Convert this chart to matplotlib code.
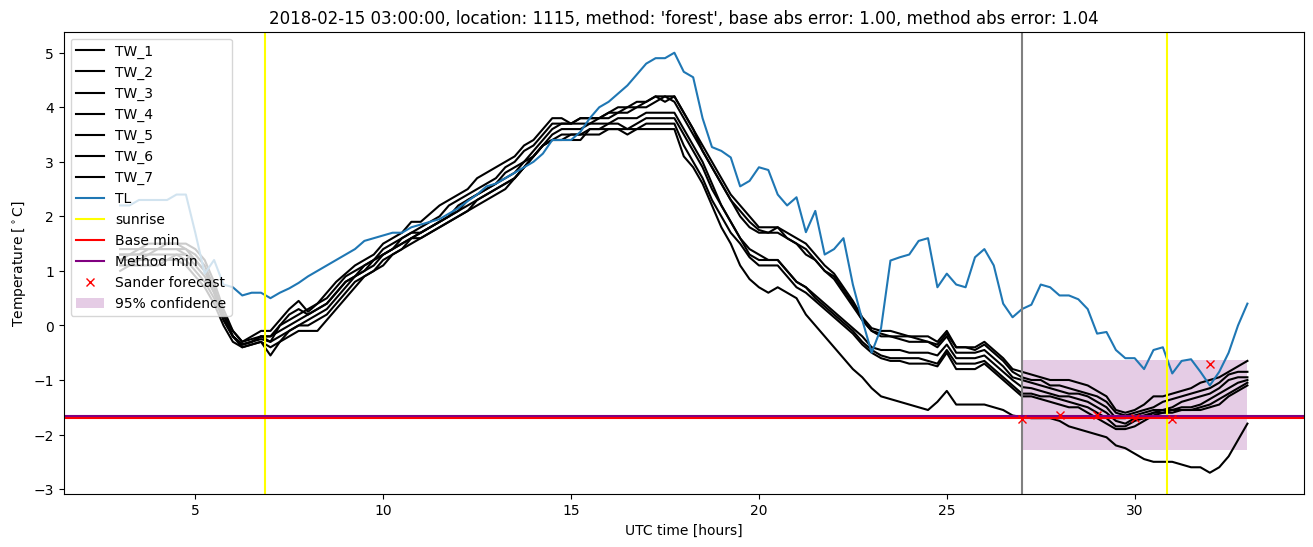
import matplotlib
matplotlib.use('Agg')
import numpy as np
import matplotlib.pyplot as plt

# quarter-hourly samples, 03:00 .. 33:00 UTC hours
hours = np.arange(3.0, 33.01, 0.25)

tw_1 = [1.4, 1.4, 1.4, 1.5, 1.5, 1.5, 1.5, 1.5, 1.4, 1.2, 0.8, 0.3,
        -0.1, -0.3, -0.2, -0.1, -0.1, 0.1, 0.3, 0.45, 0.25, 0.4, 0.6, 0.8,
        0.95, 1.1, 1.2, 1.3, 1.5, 1.6, 1.7, 1.9, 1.9, 2.05, 2.2, 2.3,
        2.4, 2.5, 2.7, 2.8, 2.9, 3.0, 3.1, 3.3, 3.4, 3.6, 3.8, 3.8,
        3.7, 3.8, 3.8, 3.8, 3.9, 4.0, 4.0, 4.1, 4.1, 4.2, 4.2, 4.2,
        3.9, 3.6, 3.3, 3.0, 2.7, 2.4, 2.2, 2.0, 1.8, 1.8, 1.8, 1.7,
        1.6, 1.5, 1.3, 1.1, 0.95, 0.7, 0.45, 0.15, -0.05, -0.1, -0.1, -0.15,
        -0.2, -0.2, -0.2, -0.3, -0.1, -0.4, -0.4, -0.4, -0.3, -0.45, -0.6, -0.8,
        -0.85, -0.9, -0.95, -1.0, -1.0, -1.0, -1.05, -1.1, -1.2, -1.3, -1.55, -1.6,
        -1.55, -1.45, -1.3, -1.3, -1.25, -1.2, -1.15, -1.05, -1.0, -0.95, -0.85, -0.75,
        -0.65]
tw_2 = [1.3, 1.3, 1.4, 1.4, 1.4, 1.5, 1.5, 1.4, 1.3, 1.1, 0.7, 0.2,
        -0.1, -0.3, -0.25, -0.2, -0.2, 0.0, 0.1, 0.2, 0.3, 0.4, 0.5, 0.7,
        0.9, 1.0, 1.1, 1.2, 1.4, 1.5, 1.6, 1.7, 1.8, 1.9, 2.0, 2.2,
        2.3, 2.4, 2.5, 2.6, 2.7, 2.9, 3.0, 3.2, 3.3, 3.5, 3.7, 3.7,
        3.7, 3.8, 3.8, 3.8, 3.9, 3.9, 4.0, 4.0, 4.1, 4.2, 4.1, 4.2,
        3.9, 3.6, 3.2, 2.9, 2.6, 2.3, 2.1, 1.9, 1.75, 1.7, 1.8, 1.6,
        1.5, 1.4, 1.2, 1.0, 0.9, 0.65, 0.4, 0.1, -0.1, -0.15, -0.2, -0.2,
        -0.2, -0.25, -0.3, -0.35, -0.15, -0.4, -0.4, -0.45, -0.35, -0.5, -0.65, -0.85,
        -0.95, -1.0, -1.0, -1.1, -1.1, -1.15, -1.2, -1.25, -1.3, -1.4, -1.6, -1.65,
        -1.6, -1.55, -1.5, -1.4, -1.35, -1.3, -1.25, -1.2, -1.15, -1.05, -0.9, -0.85,
        -0.85]
tw_3 = [1.2, 1.3, 1.3, 1.3, 1.4, 1.4, 1.4, 1.4, 1.2, 1.0, 0.6, 0.2,
        -0.2, -0.35, -0.3, -0.2, -0.2, -0.1, 0.0, 0.1, 0.2, 0.3, 0.4, 0.6,
        0.8, 0.9, 1.1, 1.2, 1.3, 1.4, 1.6, 1.7, 1.7, 1.8, 1.9, 2.0,
        2.2, 2.3, 2.4, 2.5, 2.6, 2.8, 2.9, 3.0, 3.2, 3.4, 3.6, 3.7,
        3.7, 3.7, 3.7, 3.8, 3.8, 3.9, 3.9, 4.0, 4.0, 4.1, 4.2, 4.1,
        3.8, 3.5, 3.2, 2.9, 2.6, 2.3, 2.0, 1.8, 1.7, 1.7, 1.7, 1.6,
        1.5, 1.3, 1.2, 1.0, 0.85, 0.6, 0.35, 0.1, -0.1, -0.2, -0.2, -0.25,
        -0.3, -0.3, -0.3, -0.4, -0.2, -0.5, -0.5, -0.5, -0.45, -0.6, -0.75, -0.95,
        -1.0, -1.05, -1.1, -1.15, -1.2, -1.25, -1.25, -1.3, -1.4, -1.5, -1.7, -1.7,
        -1.65, -1.6, -1.55, -1.55, -1.5, -1.4, -1.35, -1.3, -1.25, -1.15, -1.0, -0.95,
        -0.95]
tw_4 = [1.2, 1.2, 1.2, 1.3, 1.3, 1.3, 1.3, 1.3, 1.1, 0.9, 0.6, 0.1,
        -0.2, -0.35, -0.3, -0.25, -0.3, -0.2, -0.1, 0.0, 0.1, 0.2, 0.3, 0.5,
        0.7, 0.9, 1.0, 1.1, 1.3, 1.4, 1.5, 1.6, 1.7, 1.8, 1.9, 2.0,
        2.1, 2.3, 2.4, 2.5, 2.6, 2.7, 2.8, 3.0, 3.1, 3.3, 3.5, 3.6,
        3.6, 3.6, 3.7, 3.7, 3.7, 3.8, 3.8, 3.8, 3.9, 3.9, 3.9, 3.9,
        3.6, 3.3, 3.0, 2.6, 2.2, 1.9, 1.6, 1.4, 1.3, 1.2, 1.2, 1.0,
        0.8, 0.7, 0.55, 0.4, 0.25, 0.1, -0.05, -0.2, -0.4, -0.45, -0.45, -0.45,
        -0.5, -0.5, -0.5, -0.55, -0.35, -0.6, -0.6, -0.6, -0.55, -0.7, -0.85, -1.0,
        -1.13, -1.15, -1.2, -1.25, -1.3, -1.3, -1.35, -1.4, -1.5, -1.6, -1.75, -1.8,
        -1.7, -1.65, -1.6, -1.55, -1.55, -1.5, -1.5, -1.45, -1.35, -1.25, -1.15, -1.05,
        -1.0]
tw_5 = [1.1, 1.1, 1.2, 1.2, 1.2, 1.2, 1.3, 1.2, 1.0, 0.8, 0.5, 0.1,
        -0.2, -0.4, -0.35, -0.3, -0.4, -0.3, -0.1, 0.0, 0.0, 0.1, 0.2, 0.4,
        0.6, 0.8, 0.9, 1.0, 1.2, 1.3, 1.4, 1.6, 1.6, 1.7, 1.8, 1.9,
        2.0, 2.1, 2.3, 2.4, 2.5, 2.6, 2.7, 2.9, 3.1, 3.3, 3.4, 3.5,
        3.5, 3.5, 3.6, 3.6, 3.7, 3.7, 3.6, 3.7, 3.8, 3.8, 3.8, 3.8,
        3.5, 3.2, 2.9, 2.5, 2.2, 1.9, 1.6, 1.3, 1.2, 1.2, 1.2, 1.0,
        0.8, 0.7, 0.5, 0.35, 0.2, 0.05, -0.1, -0.3, -0.45, -0.55, -0.6, -0.6,
        -0.6, -0.6, -0.65, -0.7, -0.45, -0.7, -0.7, -0.7, -0.65, -0.8, -0.95, -1.1,
        -1.25, -1.25, -1.3, -1.3, -1.35, -1.4, -1.45, -1.5, -1.6, -1.7, -1.85, -1.85,
        -1.75, -1.7, -1.6, -1.6, -1.55, -1.55, -1.55, -1.5, -1.45, -1.35, -1.25, -1.15,
        -1.05]
tw_6 = [1.0, 1.1, 1.1, 1.1, 1.1, 1.2, 1.2, 1.1, 0.9, 0.7, 0.4, 0.0,
        -0.3, -0.4, -0.35, -0.3, -0.55, -0.3, -0.2, -0.1, -0.1, -0.1, 0.1, 0.3,
        0.5, 0.7, 0.9, 1.0, 1.1, 1.3, 1.4, 1.5, 1.6, 1.7, 1.8, 1.9,
        2.0, 2.1, 2.2, 2.3, 2.4, 2.5, 2.7, 2.9, 3.1, 3.3, 3.4, 3.4,
        3.5, 3.5, 3.5, 3.5, 3.6, 3.6, 3.5, 3.6, 3.7, 3.7, 3.7, 3.7,
        3.3, 3.0, 2.7, 2.3, 2.0, 1.7, 1.5, 1.25, 1.1, 1.1, 1.1, 0.9,
        0.7, 0.6, 0.45, 0.3, 0.15, 0.0, -0.15, -0.35, -0.5, -0.6, -0.65, -0.65,
        -0.7, -0.7, -0.7, -0.75, -0.5, -0.8, -0.8, -0.8, -0.7, -0.85, -1.0, -1.15,
        -1.3, -1.3, -1.35, -1.4, -1.45, -1.5, -1.5, -1.6, -1.7, -1.8, -1.9, -1.9,
        -1.85, -1.75, -1.65, -1.6, -1.6, -1.55, -1.55, -1.55, -1.5, -1.45, -1.3, -1.2,
        -1.1]
tw_7 = [1.3, 1.3, 1.3, 1.4, 1.4, 1.4, 1.4, 1.3, 1.2, 1.0, 0.7, 0.2,
        -0.2, -0.35, -0.3, -0.2, -0.3, 0.0, 0.2, 0.3, 0.2, 0.3, 0.4, 0.6,
        0.8, 0.9, 1.0, 1.2, 1.3, 1.4, 1.5, 1.6, 1.7, 1.8, 1.9, 2.0,
        2.1, 2.2, 2.3, 2.4, 2.5, 2.6, 2.7, 2.9, 3.1, 3.3, 3.4, 3.4,
        3.4, 3.4, 3.6, 3.6, 3.6, 3.6, 3.6, 3.6, 3.6, 3.6, 3.6, 3.6,
        3.1, 2.9, 2.6, 2.2, 1.8, 1.5, 1.1, 0.85, 0.7, 0.6, 0.7, 0.6,
        0.5, 0.2, 0.0, -0.2, -0.4, -0.6, -0.8, -0.95, -1.15, -1.3, -1.35, -1.4,
        -1.45, -1.5, -1.55, -1.4, -1.2, -1.45, -1.45, -1.45, -1.45, -1.5, -1.55, -1.65,
        -1.68, -1.7, -1.7, -1.7, -1.75, -1.85, -1.9, -1.95, -2.0, -2.05, -2.2, -2.25,
        -2.35, -2.45, -2.5, -2.5, -2.5, -2.55, -2.6, -2.6, -2.7, -2.6, -2.4, -2.1,
        -1.8]
tl = [2.2, 2.2, 2.3, 2.3, 2.3, 2.3, 2.4, 2.4, 1.7, 0.95, 1.2, 0.75,
      0.7, 0.55, 0.6, 0.6, 0.5, 0.6, 0.68, 0.78, 0.9, 1.0, 1.1, 1.2,
      1.3, 1.4, 1.55, 1.6, 1.65, 1.7, 1.7, 1.8, 1.85, 1.9, 1.95, 2.05,
      2.15, 2.28, 2.4, 2.55, 2.6, 2.7, 2.8, 2.9, 3.0, 3.15, 3.4, 3.4,
      3.4, 3.55, 3.8, 4.0, 4.1, 4.25, 4.4, 4.6, 4.8, 4.9, 4.9, 5.0,
      4.65, 4.55, 3.8, 3.27, 3.2, 3.08, 2.55, 2.65, 2.9, 2.85, 2.4, 2.2,
      2.35, 1.71, 2.1, 1.3, 1.4, 1.6, 0.75, 0.1, -0.5, -0.05, 1.19, 1.25,
      1.3, 1.55, 1.6, 0.7, 0.95, 0.75, 0.7, 1.25, 1.4, 1.1, 0.4, 0.15,
      0.3, 0.38, 0.75, 0.7, 0.55, 0.55, 0.48, 0.3, -0.15, -0.12, -0.45, -0.6,
      -0.6, -0.8, -0.45, -0.4, -0.88, -0.65, -0.62, -0.85, -1.1, -0.85, -0.5, 0.0,
      0.4]

sunrise = [6.85, 30.85]
forecast_time = 27.0
base_min = -1.70
method_min = -1.665
sander_hours = [27, 28, 29, 30, 31, 32]
sander_temps = [-1.71, -1.64, -1.64, -1.69, -1.72, -0.70]
conf_hours = [27.0, 33.0]
conf_low = -2.28
conf_high = -0.64

fig, ax = plt.subplots(figsize=(16, 6))
for i, tw in enumerate([tw_1, tw_2, tw_3, tw_4, tw_5, tw_6, tw_7]):
    ax.plot(hours, tw, color='black', label=f'TW_{i+1}')
ax.plot(hours, tl, label='TL')
for j, s in enumerate(sunrise):
    ax.axvline(s, color='yellow', label='sunrise' if j == 0 else None)
ax.axvline(forecast_time, color='grey')
ax.axhline(base_min, color='red', label='Base min')
ax.axhline(method_min, color='purple', label='Method min')
ax.plot(sander_hours, sander_temps, 'x', color='red', label='Sander forecast')
ax.fill_between(conf_hours, conf_low, conf_high, color='purple', alpha=0.2,
                lw=0, label='95% confidence')

ax.set_xlabel('UTC time [hours]')
ax.set_ylabel(r'Temperature [$^\circ$C]')
ax.set_title("2018-02-15 03:00:00, location: 1115, method: 'forest', "
             "base abs error: 1.00, method abs error: 1.04")
ax.legend(loc='upper left')
plt.savefig('out.png', dpi=100, bbox_inches='tight')
print("Done")
